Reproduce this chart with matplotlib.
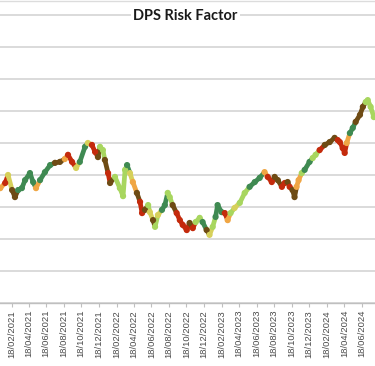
import matplotlib
matplotlib.use("Agg")
import matplotlib.pyplot as plt
import matplotlib.dates as mdates
from matplotlib.collections import LineCollection
import numpy as np
import datetime as dt

title = "DPS Risk Factor"

dates = [
    "2021-01-10", "2021-01-27", "2021-02-06", "2021-02-20", "2021-03-02", "2021-03-13",
    "2021-03-26", "2021-04-06", "2021-04-23", "2021-05-04", "2021-05-14", "2021-05-28",
    "2021-06-14", "2021-07-02", "2021-07-19", "2021-08-05", "2021-08-22", "2021-09-02",
    "2021-09-16", "2021-09-30", "2021-10-13", "2021-10-31", "2021-11-10", "2021-11-24",
    "2021-12-05", "2021-12-15", "2021-12-22", "2022-01-01", "2022-01-08", "2022-01-19",
    "2022-01-26", "2022-02-12", "2022-03-01", "2022-03-12", "2022-03-19", "2022-03-26",
    "2022-04-05", "2022-04-15", "2022-04-29", "2022-05-10", "2022-05-17", "2022-05-27",
    "2022-06-07", "2022-06-13", "2022-06-24", "2022-07-01", "2022-07-11", "2022-07-25",
    "2022-08-04", "2022-08-14", "2022-08-21", "2022-08-31", "2022-09-14", "2022-09-25",
    "2022-10-05", "2022-10-19", "2022-10-29", "2022-11-09", "2022-11-19", "2022-12-03",
    "2022-12-13", "2022-12-27", "2023-01-06", "2023-01-17", "2023-01-27", "2023-02-03",
    "2023-02-17", "2023-02-28", "2023-03-10", "2023-03-20", "2023-04-03", "2023-04-21",
    "2023-05-08", "2023-05-25", "2023-06-12", "2023-06-29", "2023-07-16", "2023-07-27",
    "2023-08-10", "2023-08-20", "2023-08-31", "2023-09-14", "2023-09-24", "2023-10-04",
    "2023-10-11", "2023-10-21", "2023-10-28", "2023-11-04", "2023-11-11", "2023-11-22",
    "2023-12-02", "2023-12-19", "2023-12-30", "2024-01-09", "2024-01-23", "2024-02-10",
    "2024-02-27", "2024-03-15", "2024-03-26", "2024-04-02", "2024-04-12", "2024-04-19",
    "2024-04-26", "2024-05-07", "2024-05-17", "2024-05-27", "2024-06-11", "2024-06-21",
    "2024-07-01", "2024-07-08", "2024-07-18", "2024-07-29",
]

values = [
    3.59, 3.75, 4.00, 3.53, 3.31, 3.53,
    3.59, 3.84, 4.06, 3.78, 3.59, 3.84,
    4.09, 4.31, 4.38, 4.41, 4.50, 4.63,
    4.41, 4.22, 4.41, 4.88, 5.00, 4.94,
    4.72, 4.56, 4.88, 4.78, 4.47, 4.06,
    3.75, 3.94, 3.59, 3.34, 4.16, 4.31,
    4.06, 3.78, 3.44, 3.16, 2.81, 2.91,
    3.06, 2.84, 2.59, 2.38, 2.75, 2.91,
    3.06, 3.44, 3.31, 3.06, 2.81, 2.59,
    2.44, 2.28, 2.50, 2.34, 2.53, 2.66,
    2.53, 2.28, 2.13, 2.38, 2.69, 3.06,
    2.84, 2.81, 2.59, 2.81, 2.97, 3.13,
    3.44, 3.63, 3.78, 3.91, 4.09, 3.94,
    3.78, 3.94, 3.84, 3.63, 3.75, 3.78,
    3.63, 3.53, 3.31, 3.63, 3.84, 4.06,
    4.16, 4.41, 4.53, 4.63, 4.78, 4.94,
    5.03, 5.16, 5.09, 5.03, 4.84, 4.69,
    5.00, 5.31, 5.47, 5.66, 5.88, 6.13,
    6.28, 6.34, 6.13, 5.81,
]

risk = [
    "O", "R", "Y", "B", "B", "G",
    "G", "G", "G", "G", "O", "G",
    "G", "G", "B", "B", "O", "R",
    "R", "Y", "G", "G", "Y", "R",
    "R", "B", "L", "L", "B", "R",
    "B", "L", "L", "L", "L", "G",
    "Y", "O", "B", "R", "R", "B",
    "L", "Y", "B", "L", "Y", "G",
    "G", "L", "L", "B", "R", "R",
    "R", "R", "B", "R", "L", "L",
    "G", "B", "Y", "L", "G", "G",
    "G", "R", "O", "L", "Y", "L",
    "L", "G", "G", "G", "O", "R",
    "R", "B", "B", "R", "R", "B",
    "R", "B", "B", "O", "O", "L",
    "G", "G", "L", "L", "R", "B",
    "B", "B", "R", "R", "R", "R",
    "O", "G", "G", "B", "B", "B",
    "L", "L", "L", "L",
]

palette = {
    "G": "#3f8a52",
    "L": "#a8d65f",
    "Y": "#d6d05a",
    "O": "#f0a644",
    "R": "#c42a0c",
    "B": "#6e4b14",
}

W, H = 375, 366
fig = plt.figure(figsize=(W / 100, H / 100), dpi=100)
fig.patch.set_facecolor("white")

ax_bottom_px = 303
ax_top_px = 1
ax = fig.add_axes([0, 1 - ax_bottom_px / H, 1, (ax_bottom_px - ax_top_px) / H])

x = mdates.date2num([dt.datetime.strptime(d, "%Y-%m-%d") for d in dates])
y = np.array(values)
cols = [palette[r] for r in risk]

pts = np.column_stack([x, y])
segs = np.stack([pts[:-1], pts[1:]], axis=1)
lc = LineCollection(segs, colors=cols[:-1], linewidths=3.4, capstyle="round", zorder=3)
ax.add_collection(lc)
ax.scatter(x, y, s=20, c=cols, linewidths=0, zorder=4)

# x range: 18/02/2021 sits at x=11.5 px, 18/06/2024 at 362 px
t0 = mdates.date2num(dt.datetime(2021, 2, 18))
t1 = mdates.date2num(dt.datetime(2024, 6, 18))
dpp = (t1 - t0) / (362 - 11.5)
ax.set_xlim(t0 - 11.5 * dpp, t0 + (W - 11.5) * dpp)

unit = 32.0
ax.set_ylim(0, (ax_bottom_px - ax_top_px) / unit)
ax.set_yticks(np.arange(0, 10, 1))
ax.yaxis.grid(True, color="#d4d4d4", linewidth=1.2)
ax.set_axisbelow(True)
ax.tick_params(axis="y", left=False, labelleft=False)

ticks = [mdates.date2num(dt.datetime(2021 + (1 + 2 * i) // 12, (1 + 2 * i) % 12 + 1, 18)) for i in range(21)]
ax.set_xticks(ticks)
ax.xaxis.set_major_formatter(mdates.DateFormatter("%d/%m/%Y"))
ax.tick_params(axis="x", direction="out", length=3, width=0.8, color="#bfbfbf",
               labelsize=6.8, labelcolor="#4a4a4a", pad=2, labelrotation=90)
for lab in ax.get_xticklabels():
    lab.set_fontfamily("Liberation Sans")

for s in ["left", "right"]:
    ax.spines[s].set_visible(False)
ax.spines["bottom"].set_color("#bfbfbf")
ax.spines["bottom"].set_linewidth(1.0)
ax.spines["top"].set_color("#dcdcdc")
ax.spines["top"].set_linewidth(1.0)

fig.text(185.5 / W, 1 - 16 / H, title, ha="center", va="center", fontsize=10.5,
         fontweight="bold", family="Lato", color="#1a1a1a",
         bbox=dict(facecolor="white", edgecolor="none", pad=1.5), zorder=10)

fig.savefig("out.png", dpi=100, facecolor="white")
